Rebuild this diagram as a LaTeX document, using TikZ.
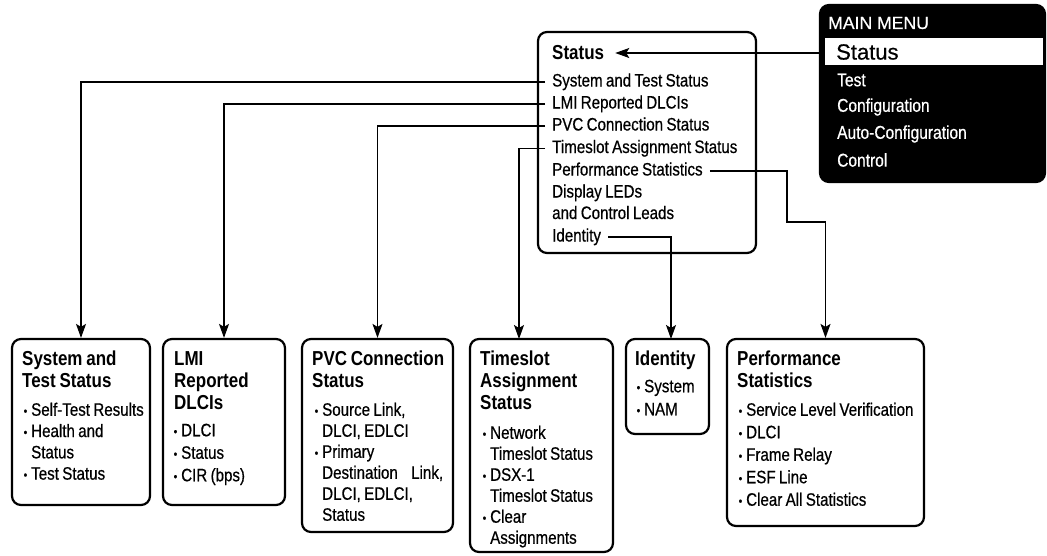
\documentclass[tikz,border=0pt]{standalone}
\usepackage{fontspec}
\setmainfont{Liberation Sans}[FakeStretch=0.84, WordSpace=0.8,
  UprightFeatures={FakeBold=0.6}]
\newfontfamily\menufont{Liberation Sans}[FakeBold=0.5]
\usetikzlibrary{arrows.meta}

% bullet and hanging indent for the card lists
\newcommand\bul{\makebox[9pt][l]{\hspace{1.5pt}{\fontsize{12}{12}\selectfont\raisebox{0.6pt}{•}}}}
\newcommand\hang{\hspace*{9pt}}
\newcommand\ttl{\fontsize{20.2}{22}\selectfont\bfseries}

\tikzset{
  card/.style={draw, line width=2.2pt, rounded corners=9pt, inner sep=0pt},
  head/.style={anchor=north west, inner sep=0pt, align=left, font=\ttl},
  list/.style={anchor=north west, inner sep=0pt, align=left,
               font=\fontsize{18}{#1}\selectfont},
  list/.default=22.5,
  item/.style={anchor=west, inner xsep=7pt, inner ysep=0pt, text height=13pt,
               text depth=4pt, font=\fontsize{18}{22.5}\selectfont},
  menuitem/.style={anchor=west, inner sep=0pt, text=white,
               font=\fontsize{18.5}{22}\selectfont},
  link/.style={line width=1.3pt},
  tip/.style={-{Stealth[length=14pt,width=10pt,inset=3pt]}}
}

\begin{document}
\begin{tikzpicture}[x=1pt,y=-1pt]
\useasboundingbox (0,0) rectangle (1047,555);

% main menu panel
\node[card, fill=black, minimum width=225pt, minimum height=177pt] (menu) at (932.5,93.5) {};
\fill[white] (825,38) rectangle (1043,65);
\node[anchor=west, inner sep=0pt, text=white, font=\menufont\fontsize{17.6}{20}\selectfont] (mhead) at (828,23) {MAIN MENU};
\node[anchor=west, inner sep=0pt, font=\menufont\fontsize{22}{24}\selectfont] (mstatus) at (836,52) {Status};
\node[menuitem] (mtest) at (837,80) {Test};
\node[menuitem] (mconf) at (837,107) {Configuration};
\node[menuitem] (mauto) at (837,134) {Auto-Configuration};
\node[menuitem] (mctrl) at (837,160) {Control};

% status menu
\node[card, minimum width=218pt, minimum height=221pt] (status) at (647,142.5) {};
\node[anchor=west, inner xsep=11pt, inner ysep=0pt, font=\ttl] (stitle) at (541,53) {Status};
\node[item] (isys) at (545,82) {System and Test Status};
\node[item] (ilmi) at (545,104) {LMI Reported DLCIs};
\node[item] (ipvc) at (545,126) {PVC Connection Status};
\node[item] (its) at (545,148.5) {Timeslot Assignment Status};
\node[item] (iperf) at (545,171) {Performance Statistics};
\node[item] (idisp) at (545,193) {Display LEDs};
\node[item] (idisp2) at (545,214.5) {and Control Leads};
\node[item] (iid) at (545,237) {Identity};

% detail cards
\node[card, minimum width=138pt, minimum height=166pt] (sysbox) at (81,422) {};
\node[head] (syshead) at (22,351) {System and\\Test Status};
\node[list=21.3] (syslist) at (22,402.5) {\bul Self-Test Results\\ \bul Health and\\ \hang Status\\ \bul Test Status};

\node[card, minimum width=122pt, minimum height=166pt] (lmibox) at (224,422) {};
\node[head] (lmihead) at (174,351) {LMI\\Reported\\DLCIs};
\node[list=22.5] (lmilist) at (172,423.5) {\bul DLCI\\ \bul Status\\ \bul CIR (bps)};

\node[card, minimum width=151pt, minimum height=193pt] (pvcbox) at (377.5,435.5) {};
\node[head] (pvchead) at (312,351) {PVC Connection\\Status};
\node[list=21] (pvclist) at (313,402.5) {\bul Source Link,\\ \hang DLCI, EDLCI\\ \bul Primary\\
  \hang Destination\hspace{10pt} Link,\\ \hang DLCI, EDLCI,\\ \hang Status};

\node[card, minimum width=143pt, minimum height=213pt] (tsbox) at (541.5,445.5) {};
\node[head] (tshead) at (480,351) {Timeslot\\Assignment\\Status};
\node[list=21] (tslist) at (481,425.5) {\bul Network\\ \hang Timeslot Status\\ \bul DSX-1\\
  \hang Timeslot Status\\ \bul Clear\\ \hang Assignments};

\node[card, minimum width=83pt, minimum height=95pt] (idbox) at (667.5,386.5) {};
\node[head] (idhead) at (635,351) {Identity};
\node[list=23] (idlist) at (635,379.5) {\bul System\\ \bul NAM};

\node[card, minimum width=197pt, minimum height=187pt] (perfbox) at (825.5,432.5) {};
\node[head] (perfhead) at (737,351) {Performance\\Statistics};
\node[list=22.5] (perflist) at (737,402.5) {\bul Service Level Verification\\ \bul DLCI\\
  \bul Frame Relay\\ \bul ESF Line\\ \bul Clear All Statistics};

% connectors
\coordinate (tsdrop) at (519,339);
\coordinate (iddrop) at (671,339);
\coordinate (pbend) at (787,222);
\draw[link,tip] (stitle.east -| menu.west) -- (stitle.east);
\draw[link,tip] (isys.west) -| (sysbox.north);
\draw[link,tip] (ilmi.west) -| (lmibox.north);
\draw[link,tip] (ipvc.west) -| (pvcbox.north);
\draw[link,tip] (its.west) -| (tsdrop);
\draw[link,tip] (iid.east) -| (iddrop);
\draw[link,tip] (iperf.east) -| (pbend) -| (perfbox.north);
\end{tikzpicture}
\end{document}
